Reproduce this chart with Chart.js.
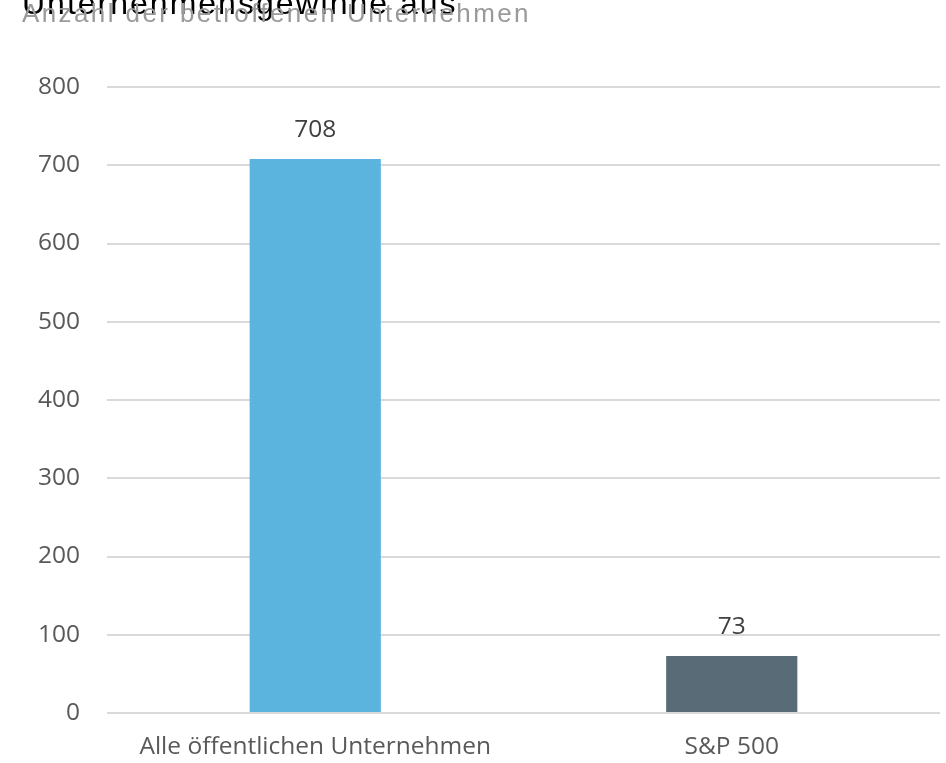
<!DOCTYPE html>
<html>
<head>
<meta charset="utf-8">
<script src="https://cdn.jsdelivr.net/npm/chart.js@4"></script>
<style>
  html, body { margin: 0; padding: 0; background: #fff; }
  #wrap { position: relative; width: 946px; height: 763px; overflow: hidden; }
  #title {
    position: absolute; left: 22px; top: -13px;
    font: 32px/1 "Liberation Sans", Arial, sans-serif; color: #000;
    letter-spacing: 2px; white-space: nowrap;
  }
  #subtitle {
    position: absolute; left: 22px; top: 0px;
    font: 26px/1 "Liberation Sans", Arial, sans-serif; color: #9a9a9a;
    letter-spacing: 2.4px; white-space: nowrap;
  }
  canvas { position: absolute; left: 0; top: 0; }
</style>
</head>
<body>
<div id="wrap">
  <canvas id="chart" width="946" height="763"></canvas>
  <div id="title">Unternehmensgewinne aus</div>
  <div id="subtitle">Anzahl der betroffenen Unternehmen</div>
</div>
<script>
// ── Data ───────────────────────────────────────────────────────────────────
const CATEGORIES = ["Alle öffentlichen Unternehmen", "S&P 500"];
const VALUES = [708, 73];
const BAR_COLORS = ["#5bb4dd", "#5a6b78"];
const Y_TICKS = [0, 100, 200, 300, 400, 500, 600, 700, 800];

const FONT = "'Open Sans', 'Noto Sans', sans-serif";

// value labels above the bars
const valueLabels = {
  id: "valueLabels",
  afterDatasetsDraw(chart) {
    const ctx = chart.ctx;
    const meta = chart.getDatasetMeta(0);
    ctx.save();
    ctx.font = "24.5px " + FONT;
    ctx.fillStyle = "#404040";
    ctx.textAlign = "center";
    ctx.textBaseline = "middle";
    meta.data.forEach((bar, i) => {
      ctx.fillText(String(VALUES[i]), bar.x, bar.y - 29);
    });
    ctx.restore();
  },
};

new Chart(document.getElementById("chart"), {
  type: "bar",
  data: {
    labels: CATEGORIES,
    datasets: [{
      data: VALUES,
      backgroundColor: BAR_COLORS,
      barPercentage: 0.315,
      categoryPercentage: 1,
    }],
  },
  options: {
    responsive: false,
    animation: false,
    layout: { padding: { top: 87, right: 6, left: 0, bottom: 0 } },
    plugins: { legend: { display: false }, tooltip: { enabled: false } },
    scales: {
      x: {
        grid: { display: false, drawTicks: false },
        border: { display: false },
        ticks: { color: "#595959", font: { family: FONT, size: 24.5 }, padding: 19 },
        afterFit: s => { s.height = 50; },
      },
      y: {
        min: 0, max: 800,
        afterBuildTicks: s => { s.ticks = Y_TICKS.map(v => ({ value: v })); },
        grid: { color: "#d9d9d9", lineWidth: 2, drawTicks: false },
        border: { display: false },
        ticks: { color: "#595959", font: { family: FONT, size: 24.5 }, padding: 27 },
        afterFit: s => { s.width = 107; },
      },
    },
  },
  plugins: [valueLabels],
});
</script>
</body>
</html>
